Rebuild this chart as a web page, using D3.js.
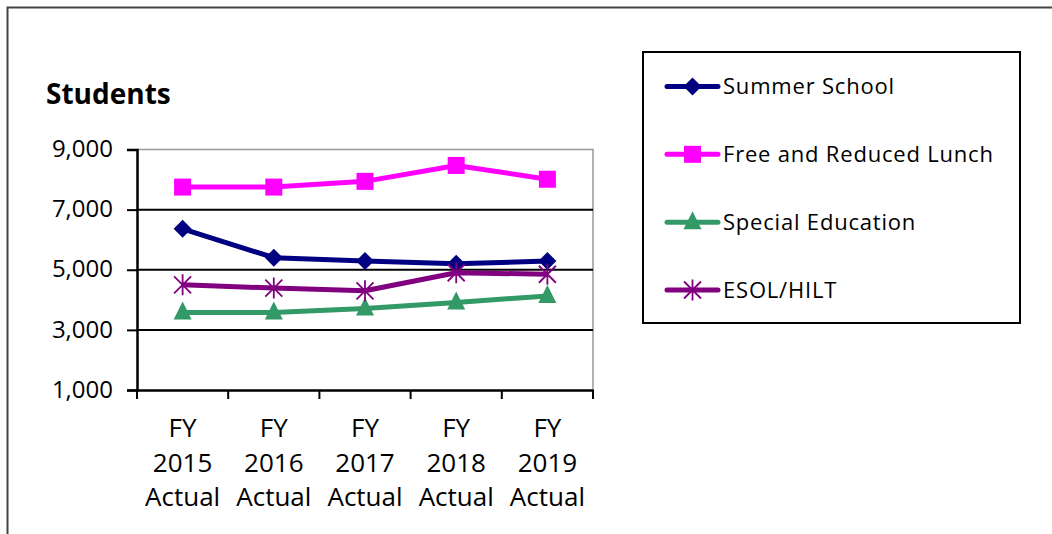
<!DOCTYPE html>
<html><head><meta charset="utf-8">
<script src="https://cdn.jsdelivr.net/npm/d3@7"></script>
<style>
html,body{margin:0;padding:0;background:#fff;}
svg{display:block;}
text{font-family:"Open Sans","Noto Sans",sans-serif;fill:#000;}
</style></head>
<body>
<svg id="chart" width="1052" height="534"></svg>
<script>
const categories = ["FY 2015 Actual","FY 2016 Actual","FY 2017 Actual","FY 2018 Actual","FY 2019 Actual"];
const seriesNames = ["Summer School","Free and Reduced Lunch","Special Education","ESOL/HILT"];
const summerSchool = [6360, 5400, 5290, 5200, 5290];
const freeReducedLunch = [7750, 7750, 7940, 8470, 8010];
const specialEducation = [3580, 3580, 3710, 3910, 4130];
const esolHilt = [4500, 4390, 4300, 4900, 4850];
const yTicks = [1000, 3000, 5000, 7000, 9000];
const colors = ["#000080", "#FF00FF", "#339966", "#800080"];
const markers = ["diamond", "square", "triangle", "star"];

const series = [summerSchool, freeReducedLunch, specialEducation, esolHilt];

const svg = d3.select("#chart");

// outer frame
svg.append("path").attr("d","M7.5,534 V7.5 H1052").attr("fill","none").attr("stroke","#444").attr("stroke-width",2);

const L = 137, R = 593, T = 149.5, B = 390;
const x = d3.scalePoint().domain(categories).range([L, R]).padding(0.5);
const xb = d3.scaleBand().domain(categories).range([L, R]);
const y = d3.scaleLinear().domain([1000, 9000]).range([B, T]);

// plot border (top/right grey)
svg.append("path").attr("d",`M${L},${T} H${R} V${B}`).attr("fill","none").attr("stroke","#999").attr("stroke-width",1.5);

// gridlines
svg.append("g").selectAll("line").data(yTicks.filter(d=>d>1000 && d<9000)).join("line")
  .attr("x1", L).attr("x2", R).attr("y1", d=>y(d)).attr("y2", d=>y(d))
  .attr("stroke","#000").attr("stroke-width",2);

// y axis
const yAxis = svg.append("g").attr("transform",`translate(${L},0)`)
  .call(d3.axisLeft(y).tickValues(yTicks).tickSize(10).tickPadding(14).tickFormat(d3.format(",")));
yAxis.select(".domain").attr("stroke","#000").attr("stroke-width",2.5);
yAxis.selectAll(".tick line").attr("stroke","#000").attr("stroke-width",2);
yAxis.selectAll(".tick text").attr("font-size",24).attr("font-family","'Open Sans',sans-serif").attr("dy","0.3em").attr("fill","#000");

// x axis
const xAxis = svg.append("g").attr("transform",`translate(0,${B})`)
  .call(d3.axisBottom(xb).tickSize(0).tickFormat(""));
xAxis.select(".domain").attr("stroke","#000").attr("stroke-width",2.5);
xAxis.selectAll(".tick").remove();
svg.append("g").selectAll("line").data([...categories.map(c=>xb(c)), R]).join("line")
  .attr("x1", d=>d).attr("x2", d=>d).attr("y1", B).attr("y2", B+9)
  .attr("stroke","#000").attr("stroke-width",2);

const xl = svg.append("g").selectAll("text").data(categories).join("text")
  .attr("x", d=>x(d)).attr("text-anchor","middle").attr("font-size",26);
xl.each(function(d){
  const parts = d.split(" ");
  const t = d3.select(this);
  parts.forEach((p,i)=>{
    t.append("tspan").attr("x", x(d)).attr("y", 437 + i*34.5).text(p);
  });
});

// title
svg.append("text").attr("x",46).attr("y",104).attr("font-size",28).attr("font-weight","bold").text("Students");

// marker drawing
function drawMarker(g, type, color, cx, cy) {
  if (type === "diamond") {
    g.append("path").attr("d", `M${cx},${cy-9} L${cx+9},${cy} L${cx},${cy+9} L${cx-9},${cy} Z`).attr("fill", color);
  } else if (type === "square") {
    g.append("rect").attr("x", cx-8.5).attr("y", cy-8.5).attr("width",17).attr("height",17).attr("fill", color);
  } else if (type === "triangle") {
    g.append("path").attr("d", `M${cx},${cy-11} L${cx+9},${cy+7} L${cx-9},${cy+7} Z`).attr("fill", color);
  } else if (type === "star") {
    const s = 8.5;
    g.append("path").attr("d", `M${cx-s},${cy-s} L${cx+s},${cy+s} M${cx+s},${cy-s} L${cx-s},${cy+s} M${cx},${cy-s-2} L${cx},${cy+s+2}`)
      .attr("stroke", color).attr("stroke-width", 1.8).attr("fill","none");
  }
}

const line = d3.line().x((d,i)=>x(categories[i])).y(d=>y(d));
const plotG = svg.append("g");
series.forEach((vals, si) => {
  plotG.append("path").datum(vals).attr("d", line).attr("fill","none")
    .attr("stroke", colors[si]).attr("stroke-width", 5).attr("stroke-linejoin","round");
});
series.forEach((vals, si) => {
  const g = plotG.append("g");
  vals.forEach((v,i) => drawMarker(g, markers[si], colors[si], x(categories[i]), y(v)));
});

// legend
svg.append("rect").attr("x",643).attr("y",52).attr("width",377).attr("height",271)
  .attr("fill","#fff").attr("stroke","#000").attr("stroke-width",2);
const legY = d3.scalePoint().domain(seriesNames).range([86.5, 290]);
seriesNames.forEach((name, si) => {
  const cy = legY(name);
  const g = svg.append("g");
  g.append("line").attr("x1",667).attr("x2",718).attr("y1",cy).attr("y2",cy)
    .attr("stroke",colors[si]).attr("stroke-width",5).attr("stroke-linecap","round");
  drawMarker(g, markers[si], colors[si], 692.5, cy);
  g.append("text").attr("x",723).attr("y",cy).attr("dy","0.36em").attr("font-size",22)
    .attr("letter-spacing","0.8px").text(name);
});
</script>
</body></html>
